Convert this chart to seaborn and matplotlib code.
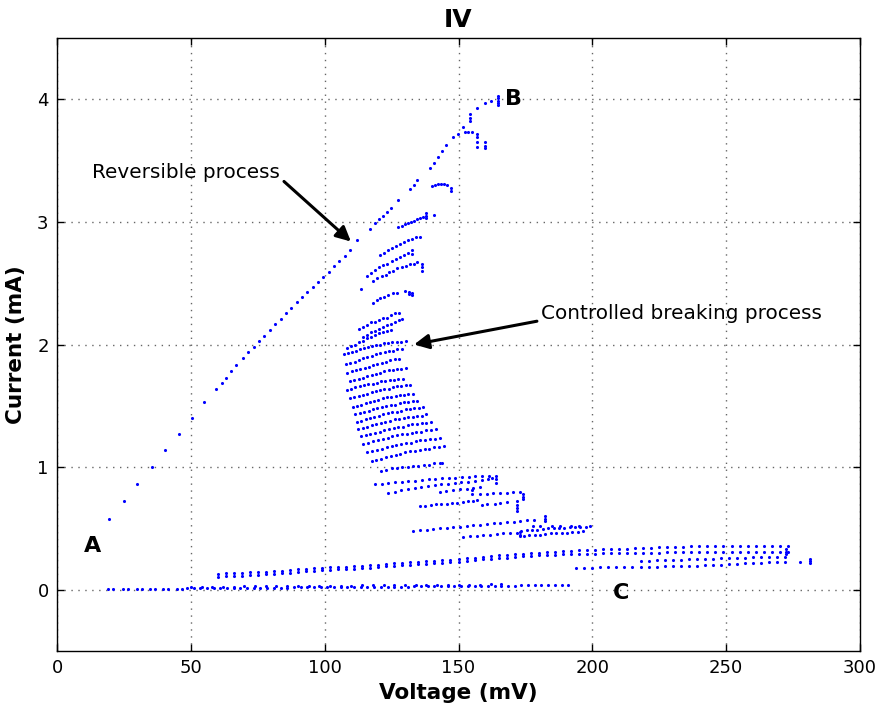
import numpy as np
import pandas as pd
import matplotlib
matplotlib.use("Agg")
import matplotlib.pyplot as plt
import seaborn as sns

# ---------------- data ----------------
x_ticks = [0, 50, 100, 150, 200, 250, 300]
y_ticks = [0, 1, 2, 3, 4]

# reversible branch A -> B
rev_v = [19.5, 25, 30, 35.5, 40.5, 45.5, 50.5, 55, 59.5, 61.5, 63, 65, 67, 69.5, 71.5,
         73.5, 75.5, 77.5, 79.5, 81.5, 83.5, 85.5, 87.5, 89.5, 91.5, 93.5, 95.5, 97.5,
         99.5, 101.5, 103.5, 105.5, 107.5, 109.5, 112]
rev_i = [0.58, 0.72, 0.86, 1.00, 1.14, 1.27, 1.40, 1.53, 1.64, 1.69, 1.73, 1.78, 1.83,
         1.89, 1.94, 1.98, 2.03, 2.07, 2.12, 2.17, 2.21, 2.26, 2.30, 2.35, 2.39, 2.43,
         2.47, 2.51, 2.55, 2.59, 2.64, 2.68, 2.72, 2.77, 2.85]
up_v = [117, 118.8, 120.3, 121.8, 123.3, 124.8, 127.4, 131.9, 133.2, 134.5, 139.3, 140.8,
        142.3, 143.8, 145.3, 147.9, 151.7, 157, 160, 162]
up_i = [2.94, 2.99, 3.02, 3.05, 3.08, 3.11, 3.18, 3.27, 3.30, 3.34, 3.44, 3.48, 3.53,
        3.58, 3.63, 3.69, 3.77, 3.93, 3.97, 3.99]
peak_v = [154.3, 154.3, 154.3, 164.7, 164.7, 164.7, 164.7, 164.7]
peak_i = [3.82, 3.85, 3.88, 3.95, 3.97, 3.99, 4.01, 4.03]
p372_v = [149.9, 152.4, 153.6, 154.9, 157, 157, 157, 157, 159.9, 159.9, 159.9]
p372_i = [3.72, 3.73, 3.73, 3.73, 3.72, 3.69, 3.65, 3.61, 3.65, 3.62, 3.60]

# upper breaking sweeps
s01_v = [140, 141.3, 142.5, 143.6, 144.7, 145.8, 147.2, 147.2]
s01_i = [3.29, 3.30, 3.31, 3.31, 3.31, 3.30, 3.28, 3.25]
s02_v = [127.4, 128.9, 129.9, 131.0, 132.1, 133.2, 134.5, 135.6, 136.7, 137.9, 137.9, 137.9, 140.8]
s02_i = [2.96, 2.97, 2.98, 2.99, 3.00, 3.01, 3.02, 3.03, 3.04, 3.07, 3.05, 3.03, 3.06]
s03_v = [120.7, 122.2, 123.6, 125.1, 126.6, 128.1, 129.6, 131.1, 132.6, 134.1, 135.6]
s03_i = [2.73, 2.75, 2.77, 2.79, 2.80, 2.82, 2.84, 2.85, 2.86, 2.88, 2.88]
s04_v = [115.8, 117.3, 118.8, 120.3, 121.8, 123.3, 125.1, 126.6, 128.1, 129.6, 131.1, 132.6, 132.6]
s04_i = [2.56, 2.58, 2.61, 2.63, 2.65, 2.66, 2.68, 2.70, 2.71, 2.73, 2.75, 2.77, 2.74]
s05_v = [118, 119.5, 121.4, 122.9, 124, 125.5, 127, 128.9, 130.4, 131.9, 133.4, 134.5, 136.4, 136.4, 136.4]
s05_i = [2.52, 2.54, 2.56, 2.57, 2.59, 2.60, 2.62, 2.63, 2.64, 2.66, 2.66, 2.67, 2.66, 2.63, 2.60]
iso_v = [113.6]
iso_i = [2.45]
s06_v = [118, 119.5, 120.7, 122.2, 123.6, 125.5, 127, 130, 131.5, 132.6, 131.5, 132.6]
s06_i = [2.34, 2.36, 2.38, 2.39, 2.40, 2.42, 2.42, 2.44, 2.43, 2.42, 2.41, 2.40]

# dense breaking sweeps
r01_v = [112.8, 114.3, 115.8, 117.3, 118.8, 120.3, 121.8, 123.3, 124.8, 126.3, 127.8]
r01_i = [2.13, 2.14, 2.16, 2.18, 2.18, 2.20, 2.22, 2.22, 2.24, 2.26, 2.26]
r02_v = [114.5, 116, 117.4, 118.9, 120.3, 121.8, 123.2, 124.7, 126.1, 127.6, 129]
r02_i = [2.06, 2.08, 2.10, 2.11, 2.13, 2.14, 2.16, 2.17, 2.18, 2.20, 2.21]
r03_v = [108.3, 109.8, 111.3, 112.8, 114.3, 115.8, 117.3, 118.8, 120.3, 121.8, 123.3, 124.8]
r03_i = [1.97, 1.99, 2.00, 2.02, 2.03, 2.05, 2.06, 2.08, 2.09, 2.10, 2.11, 2.12]
r04_v = [107.3, 108.8, 110.3, 111.8, 113.3, 114.8, 116.3, 117.8, 119.3, 120.8, 122.3, 123.8,
         125.3, 127, 128.7, 130.3]
r04_i = [1.92, 1.93, 1.94, 1.95, 1.96, 1.97, 1.98, 1.99, 2.00, 2.00, 2.01, 2.01, 2.02, 2.02, 2.02, 2.03]
r05_v = [108, 109.6, 111.2, 112.8, 114.4, 116, 117.6, 119.2, 120.8, 122.4, 124, 125.6, 127.2, 128.8]
r05_i = [1.84, 1.85, 1.86, 1.87, 1.89, 1.90, 1.91, 1.92, 1.93, 1.94, 1.95, 1.95, 1.96, 1.96]
r06_v = [108.5, 110.1, 111.7, 113.3, 114.9, 116.5, 118.1, 119.7, 121.3, 122.9, 124.5, 126.1, 127.7]
r06_i = [1.77, 1.78, 1.79, 1.80, 1.81, 1.82, 1.83, 1.84, 1.85, 1.86, 1.87, 1.88, 1.88]
r07_v = [109.5, 111.1, 112.7, 114.3, 115.9, 117.5, 119.1, 120.7, 122.3, 123.9, 125.5, 127.1, 128.7, 130.3]
r07_i = [1.70, 1.71, 1.72, 1.73, 1.74, 1.75, 1.76, 1.77, 1.78, 1.79, 1.79, 1.80, 1.80, 1.81]
r08_v = [108.3, 109.9, 111.5, 113.1, 114.7, 116.3, 117.9, 119.5, 121.1, 122.7, 124.3, 125.9, 127.5, 129.1]
r08_i = [1.63, 1.64, 1.65, 1.66, 1.67, 1.68, 1.68, 1.69, 1.70, 1.70, 1.71, 1.71, 1.72, 1.72]
r09_v = [109.5, 111.1, 112.7, 114.3, 115.9, 117.5, 119.1, 120.7, 122.3, 123.9, 125.5, 127.1,
         128.7, 130.3, 131.9]
r09_i = [1.56, 1.57, 1.58, 1.59, 1.60, 1.61, 1.62, 1.63, 1.64, 1.64, 1.65, 1.66, 1.66, 1.67, 1.67]
r10_v = [110.5, 112.1, 113.7, 115.3, 116.9, 118.5, 120.1, 121.7, 123.3, 124.9, 126.5, 128.1,
         129.7, 131.3, 132.9]
r10_i = [1.49, 1.50, 1.51, 1.52, 1.53, 1.54, 1.55, 1.56, 1.57, 1.57, 1.58, 1.59, 1.59, 1.60, 1.60]
r11_v = [111.5, 113.1, 114.8, 116.4, 118.1, 119.7, 121.4, 123, 124.7, 126.3, 128, 129.6,
         131.3, 132.9, 134.6]
r11_i = [1.43, 1.44, 1.45, 1.46, 1.47, 1.48, 1.49, 1.50, 1.51, 1.51, 1.52, 1.53, 1.53, 1.54, 1.54]
r12_v = [112, 113.7, 115.3, 117, 118.6, 120.3, 121.9, 123.6, 125.2, 126.9, 128.5, 130.2,
         131.8, 133.5, 135.1, 136.8]
r12_i = [1.37, 1.38, 1.39, 1.40, 1.41, 1.42, 1.43, 1.44, 1.45, 1.45, 1.46, 1.47, 1.47, 1.48, 1.48, 1.49]
r13_v = [112.5, 114.2, 115.9, 117.6, 119.3, 121, 122.7, 124.4, 126.1, 127.8, 129.5, 131.2,
         132.9, 134.6, 136.3, 138]
r13_i = [1.31, 1.32, 1.33, 1.34, 1.35, 1.36, 1.37, 1.38, 1.39, 1.39, 1.40, 1.41, 1.41, 1.42, 1.42, 1.43]
r14_v = [113.5, 115.3, 117, 118.8, 120.5, 122.3, 124, 125.8, 127.5, 129.3, 131, 132.8,
         134.5, 136.3, 138, 139.8]
r14_i = [1.25, 1.26, 1.27, 1.28, 1.29, 1.30, 1.31, 1.32, 1.33, 1.33, 1.34, 1.35, 1.35, 1.36, 1.36, 1.37]
r15_v = [114.5, 116.3, 118.1, 119.9, 121.7, 123.5, 125.3, 127.1, 128.9, 130.7, 132.5, 134.3,
         136.1, 137.9, 139.7, 141.5]
r15_i = [1.19, 1.20, 1.21, 1.22, 1.23, 1.24, 1.25, 1.26, 1.27, 1.27, 1.28, 1.29, 1.29, 1.30, 1.30, 1.31]
r16_v = [116, 117.8, 119.6, 121.4, 123.2, 125, 126.8, 128.6, 130.4, 132.2, 134, 135.8,
         137.6, 139.4, 141.2, 143]
r16_i = [1.12, 1.13, 1.14, 1.15, 1.16, 1.17, 1.18, 1.19, 1.20, 1.20, 1.21, 1.22, 1.22, 1.23, 1.23, 1.24]
r17_v = [117.5, 119.3, 121.1, 122.9, 124.7, 126.5, 128.3, 130.1, 131.9, 133.7, 135.5, 137.3,
         139.1, 140.9, 142.7, 144.5]
r17_i = [1.05, 1.06, 1.07, 1.08, 1.09, 1.10, 1.11, 1.12, 1.13, 1.13, 1.14, 1.15, 1.15, 1.16, 1.16, 1.17]
r18_v = [121, 123, 125, 127, 129, 131, 133, 135, 137, 139, 141, 143, 144]
r18_i = [0.97, 0.98, 0.99, 0.99, 1.00, 1.00, 1.01, 1.01, 1.02, 1.02, 1.03, 1.03, 1.03]

# lower breaking sweeps (0.4 - 0.95 mA)
ra_v = [118.8, 121.3, 123.8, 126.3, 128.8, 131.3, 133.8, 136.3, 138.8, 141.3, 143.8, 146.3,
        148.8, 151.3, 153.8, 156.3, 158.8, 161.3, 164, 164, 164]
ra_i = [0.86, 0.865, 0.87, 0.875, 0.88, 0.885, 0.89, 0.895, 0.90, 0.905, 0.91, 0.91, 0.915,
        0.92, 0.92, 0.925, 0.925, 0.93, 0.93, 0.90, 0.87]
rb_v = [123.6, 126.1, 128.6, 131.1, 133.6, 136.1, 138.6, 141.1, 143.6, 146.1, 148.6, 151.1,
        153.6, 156.1, 158.6, 161, 162.5]
rb_i = [0.79, 0.80, 0.81, 0.82, 0.83, 0.84, 0.845, 0.85, 0.86, 0.865, 0.87, 0.875, 0.88,
        0.89, 0.895, 0.90, 0.91]
rc_v = [143, 145.5, 148, 150.5, 153, 155.5, 158, 155, 155]
rc_i = [0.80, 0.805, 0.81, 0.82, 0.825, 0.83, 0.84, 0.78, 0.81]
rf_v = [158, 160.5, 163, 165.5, 168, 170.5, 173, 174, 174, 174]
rf_i = [0.78, 0.78, 0.785, 0.79, 0.79, 0.795, 0.80, 0.78, 0.76, 0.74]
rg_v = [135.6, 137.6, 139.6, 141.6, 143.6, 145.6, 147.6, 149.6, 151.6, 153.6, 155.6, 156.8,
        158.6, 160.5, 163.5, 165.5, 168, 171.7, 171.7, 171.7, 171.7]
rg_i = [0.68, 0.685, 0.69, 0.695, 0.70, 0.70, 0.705, 0.71, 0.715, 0.72, 0.725, 0.73, 0.69,
        0.695, 0.70, 0.71, 0.715, 0.72, 0.69, 0.67, 0.64]
ri_v = [133.1, 135.6, 138.1, 140.6, 143.1, 145.6, 148.1, 150.6, 153.1, 155.6, 158.1, 160.6,
        163.1, 165.6, 168.1, 170.6, 173.1, 175.6, 178.1, 182.3, 182.3, 182.3]
ri_i = [0.48, 0.485, 0.49, 0.495, 0.50, 0.505, 0.51, 0.515, 0.52, 0.525, 0.53, 0.535, 0.54,
        0.545, 0.55, 0.555, 0.56, 0.565, 0.57, 0.60, 0.58, 0.56]
rj_v = [151.8, 154.3, 156.8, 159.3, 161.8, 164.3, 166.8, 169.3, 171.8, 173, 173, 173]
rj_i = [0.43, 0.435, 0.44, 0.445, 0.45, 0.455, 0.46, 0.46, 0.465, 0.47, 0.45, 0.44]
k1_v = [173.5, 175.5, 177.5, 179.5, 181.5, 183.5, 185.5, 187.5, 189.5, 191.5, 193.5, 195.5, 197.5, 199]
k1_i = [0.48, 0.485, 0.49, 0.49, 0.495, 0.50, 0.50, 0.505, 0.505, 0.51, 0.51, 0.51, 0.515, 0.52]
k2_v = [174.5, 176.5, 178.5, 180.5, 182.5, 184.5, 186.5, 188.5, 190.5, 192.5, 194.5, 196.5]
k2_i = [0.44, 0.445, 0.45, 0.45, 0.455, 0.46, 0.46, 0.465, 0.465, 0.47, 0.47, 0.475]
k3_v = [178, 180.5, 185, 188, 192, 195]
k3_i = [0.52, 0.52, 0.52, 0.52, 0.52, 0.52]

# long low-current sweeps
long_v = [60, 63, 66, 69, 72, 75, 78, 81, 84, 87,
          90, 93, 96, 99, 102, 105, 108, 111, 114, 117,
          120, 123, 126, 129, 132, 135, 138, 141, 144, 147,
          150, 153, 156, 159, 162, 165, 168, 171, 174, 177,
          180, 183, 186, 189, 192, 195, 198, 201, 204, 207,
          210, 213, 216, 219, 222, 225, 228, 231, 234, 237,
          240, 243, 246, 249, 252, 255, 258, 261, 264, 267,
          270, 273]
l1a_i = [0.130, 0.133, 0.136, 0.139, 0.142, 0.145, 0.148, 0.152, 0.156, 0.160,
         0.165, 0.169, 0.174, 0.178, 0.182, 0.185, 0.188, 0.191, 0.196, 0.200,
         0.205, 0.209, 0.214, 0.218, 0.223, 0.227, 0.232, 0.236, 0.241, 0.245,
         0.250, 0.256, 0.262, 0.268, 0.274, 0.280, 0.286, 0.291, 0.294, 0.297,
         0.300, 0.305, 0.309, 0.313, 0.317, 0.320, 0.323, 0.326, 0.329, 0.332,
         0.335, 0.336, 0.338, 0.340, 0.342, 0.345, 0.348, 0.350, 0.352, 0.354,
         0.355, 0.355, 0.355, 0.355, 0.356, 0.357, 0.358, 0.360, 0.360, 0.360,
         0.360, 0.360]
l1b_i = [0.105, 0.108, 0.111, 0.114, 0.118, 0.122, 0.127, 0.131, 0.136, 0.140,
         0.145, 0.150, 0.154, 0.159, 0.162, 0.165, 0.168, 0.171, 0.176, 0.180,
         0.185, 0.190, 0.194, 0.199, 0.203, 0.208, 0.212, 0.217, 0.221, 0.226,
         0.230, 0.236, 0.242, 0.248, 0.253, 0.257, 0.262, 0.266, 0.271, 0.275,
         0.280, 0.283, 0.286, 0.289, 0.291, 0.292, 0.294, 0.295, 0.297, 0.298,
         0.300, 0.300, 0.300, 0.300, 0.301, 0.302, 0.304, 0.305, 0.305, 0.305,
         0.305, 0.307, 0.308, 0.310, 0.310, 0.310, 0.310, 0.310, 0.310, 0.310,
         0.310, 0.310]
end_v = [272.5, 272.5, 272.5, 277.5, 281.3, 281.3, 281.3]
end_i = [0.29, 0.31, 0.33, 0.23, 0.22, 0.235, 0.25]
l2_v = [218, 221, 224, 227, 230, 233, 236, 239, 242, 245, 248, 251, 254, 257, 260, 263, 266, 269, 272]
l2_i = [0.235, 0.237, 0.240, 0.242, 0.244, 0.246, 0.248, 0.250, 0.252, 0.254, 0.256, 0.258,
        0.260, 0.262, 0.264, 0.266, 0.267, 0.268, 0.270]
l3_v = [194, 197, 200, 203, 206, 209, 212, 215, 218, 221, 224, 227, 230, 233, 236, 239, 242,
        245, 248, 251, 254, 257, 260, 263, 266, 269, 272]
l3_i = [0.180, 0.180, 0.181, 0.182, 0.183, 0.184, 0.185, 0.186, 0.187, 0.188, 0.189, 0.190,
        0.191, 0.192, 0.193, 0.196, 0.199, 0.202, 0.205, 0.208, 0.211, 0.214, 0.217, 0.220,
        0.223, 0.226, 0.229]

# baseline (broken junction, near 0 mA)
base_v = [19.2, 21, 24.7, 26.6, 29.8, 31.6, 34.7, 36.6, 39.7, 41.6, 44.7, 46.6,
          48.5, 51, 53.5, 56, 58.5, 61, 63.5, 66, 68.5, 71, 73.5, 76, 78.5, 81, 83.5, 86,
          88.5, 91, 93.5, 96, 98.5, 101, 103.5, 106, 108.5, 111, 113.5, 116, 118.5, 121,
          123.5, 126, 128.5, 131, 133.5, 136, 138.5, 141, 143.5, 146, 148.5, 151, 153.5,
          156, 158.5, 161, 163.5, 166, 168.5, 171, 173.5, 176, 178.5, 181, 183.5, 186,
          188.5, 191]
base_i = [0.005, 0.005, 0.005, 0.005, 0.005, 0.005, 0.005, 0.005, 0.005, 0.005, 0.006, 0.006,
          0.010, 0.010, 0.011, 0.011, 0.012, 0.012, 0.013, 0.013, 0.014, 0.014, 0.015, 0.015,
          0.016, 0.016, 0.017, 0.017, 0.018, 0.018, 0.019, 0.019, 0.020, 0.020, 0.021, 0.021,
          0.022, 0.022, 0.023, 0.023, 0.024, 0.024, 0.025, 0.025, 0.026, 0.026, 0.027, 0.027,
          0.028, 0.028, 0.029, 0.029, 0.030, 0.030, 0.031, 0.031, 0.032, 0.032, 0.033, 0.033,
          0.034, 0.034, 0.035, 0.035, 0.036, 0.036, 0.037, 0.037, 0.038, 0.038]
base2_v = [50, 54, 58, 62, 66, 70, 74, 78, 82, 86, 90, 94, 98, 102, 106, 110, 114, 118, 122,
           126, 130, 134, 138, 142, 146, 150, 154, 158, 162, 166]
base2_i = [0.022, 0.023, 0.024, 0.025, 0.026, 0.027, 0.028, 0.029, 0.030, 0.031, 0.031, 0.032,
           0.032, 0.033, 0.033, 0.034, 0.035, 0.035, 0.036, 0.037, 0.037, 0.038, 0.039, 0.039,
           0.040, 0.041, 0.041, 0.042, 0.043, 0.043]

sweeps = [
    (rev_v, rev_i), (up_v, up_i), (peak_v, peak_i), (p372_v, p372_i),
    (s01_v, s01_i), (s02_v, s02_i), (s03_v, s03_i), (s04_v, s04_i), (s05_v, s05_i),
    (iso_v, iso_i), (s06_v, s06_i),
    (r01_v, r01_i), (r02_v, r02_i), (r03_v, r03_i), (r04_v, r04_i), (r05_v, r05_i),
    (r06_v, r06_i), (r07_v, r07_i), (r08_v, r08_i), (r09_v, r09_i), (r10_v, r10_i),
    (r11_v, r11_i), (r12_v, r12_i), (r13_v, r13_i), (r14_v, r14_i), (r15_v, r15_i),
    (r16_v, r16_i), (r17_v, r17_i), (r18_v, r18_i),
    (ra_v, ra_i), (rb_v, rb_i), (rc_v, rc_i), (rf_v, rf_i), (rg_v, rg_i), (ri_v, ri_i),
    (rj_v, rj_i), (k1_v, k1_i), (k2_v, k2_i), (k3_v, k3_i),
    (long_v, l1a_i), (long_v, l1b_i), (end_v, end_i), (l2_v, l2_i), (l3_v, l3_i),
    (base_v, base_i), (base2_v, base2_i),
]

vs, cs = [], []
for v, c in sweeps:
    n = min(len(v), len(c))
    vs.extend(v[:n])
    cs.extend(c[:n])
df = pd.DataFrame({"Voltage": vs, "Current": cs})

# ---------------- figure ----------------
fig = plt.figure(figsize=(8.8, 7.09), dpi=100)
ax = fig.add_axes([57 / 880, 1 - 651 / 709, (860 - 57) / 880, (651 - 38) / 709])

sns.scatterplot(data=df, x="Voltage", y="Current", ax=ax, color="#0000ff",
                s=5, linewidth=0, marker="o", legend=False, zorder=3)

ax.set_xlim(0, 300)
ax.set_ylim(-0.5, 4.5)
ax.set_xticks(x_ticks)
ax.set_yticks(y_ticks)
ax.grid(True, color="0.4", linestyle=(0, (1, 4)), linewidth=1.0)
ax.tick_params(direction="in", top=True, right=True, length=5, width=1,
               labelsize=13, pad=6)
for sp in ax.spines.values():
    sp.set_linewidth(1.0)
    sp.set_color("black")

ax.set_xlabel("Voltage (mV)", fontsize=15.5, fontweight="bold", labelpad=4)
ax.set_ylabel("Current (mA)", fontsize=15.5, fontweight="bold", labelpad=8)
ax.set_title("IV", fontsize=18, fontweight="bold", pad=8)

arrow = dict(arrowstyle="-|>", color="black", lw=2.2, mutation_scale=22,
             shrinkA=0, shrinkB=0)
ax.annotate("", xy=(109.8, 2.84), xytext=(84.8, 3.33), arrowprops=arrow)
ax.text(13.1, 3.405, "Reversible process", fontsize=14.4, va="center", ha="left")
ax.annotate("", xy=(133.4, 2.0), xytext=(179.3, 2.19), arrowprops=arrow)
ax.text(180.8, 2.25, "Controlled breaking process", fontsize=14.4, va="center", ha="left")

ax.text(13.4, 0.36, "A", fontsize=16, fontweight="bold", ha="center", va="center")
ax.text(170.7, 4.0, "B", fontsize=16, fontweight="bold", ha="center", va="center")
ax.text(210.7, -0.03, "C", fontsize=16, fontweight="bold", ha="center", va="center")

fig.savefig("out.png", dpi=100)
